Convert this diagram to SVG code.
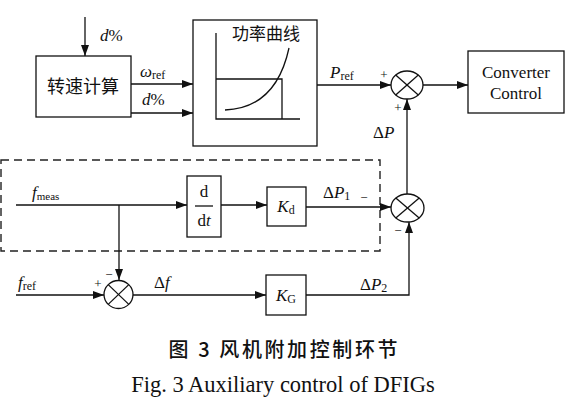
<svg xmlns="http://www.w3.org/2000/svg" width="568" height="403" viewBox="0 0 568 403">
<defs>
<marker id="ah" markerUnits="userSpaceOnUse" markerWidth="12" markerHeight="9" refX="11" refY="4" orient="auto">
<path d="M0,0 L11,4 L0,8 z" fill="#111"/>
</marker>
<style>
.ln{stroke:#111;stroke-width:1.3;fill:none}
.ar{stroke:#111;stroke-width:1.3;fill:none;marker-end:url(#ah)}
.bx{stroke:#111;stroke-width:1.3;fill:#fff}
.t{font-family:"Liberation Serif","Times New Roman",serif;fill:#111;font-size:17px}
.i{font-style:italic}
.sub{font-size:12px;font-style:normal}
.cj{font-family:"Noto Sans CJK SC",sans-serif;fill:#111}
.sg{font-family:"Liberation Serif",serif;fill:#111;font-size:13px}
</style>
</defs>
<rect width="568" height="403" fill="#fff"/>

<g id="dashed-region">
<rect x="1" y="160" width="379" height="91" fill="none" stroke="#222" stroke-width="1.4" stroke-dasharray="8,5"/>
</g>

<g id="connectors">
<line class="ar" x1="85" y1="17" x2="85" y2="56"/>
<line class="ar" x1="131" y1="84" x2="193" y2="84"/>
<line class="ar" x1="131" y1="113" x2="193" y2="113"/>
<line class="ar" x1="317" y1="85" x2="391" y2="85"/>
<line class="ar" x1="423" y1="85" x2="468" y2="85"/>
<line class="ar" x1="407" y1="194" x2="407" y2="99"/>
<line class="ar" x1="16" y1="205" x2="187" y2="205"/>
<line class="ar" x1="119" y1="205" x2="119" y2="280"/>
<line class="ar" x1="221" y1="205" x2="267" y2="205"/>
<line class="ar" x1="306" y1="207" x2="391" y2="207"/>
<line class="ar" x1="16" y1="295" x2="104" y2="295"/>
<line class="ar" x1="133" y1="295" x2="266" y2="295"/>
<polyline class="ar" points="306,295 409,295 409,222"/>
</g>

<g id="speed-calc">
<rect class="bx" x="36" y="56" width="95" height="61"/>
<text class="cj" x="83" y="93" font-size="18" text-anchor="middle">转速计算</text>
</g>

<g id="power-curve">
<rect class="bx" x="193" y="20" width="124" height="126"/>
<text class="cj" x="266" y="40" font-size="17" text-anchor="middle">功率曲线</text>
<polyline class="ln" points="216,33 216,119 300,119"/>
<polyline class="ln" points="216,79 282,79 282,119"/>
<path class="ln" d="M225,110 Q276,108 289,48"/>
</g>

<g id="sum-top">
<ellipse class="bx" cx="407" cy="85" rx="16" ry="14"/>
<line class="ln" x1="395.7" y1="75.1" x2="418.3" y2="94.9"/>
<line class="ln" x1="395.7" y1="94.9" x2="418.3" y2="75.1"/>
</g>

<g id="converter-control">
<rect class="bx" x="468" y="51" width="96" height="62"/>
<text class="t" x="516" y="78" text-anchor="middle">Converter</text>
<text class="t" x="516" y="99" text-anchor="middle">Control</text>
</g>

<g id="ddt">
<rect class="bx" x="187" y="176" width="34" height="61"/>
<text class="t" x="204" y="197" text-anchor="middle">d</text>
<line class="ln" x1="195" y1="206" x2="213" y2="206"/>
<text class="t" x="204" y="226" text-anchor="middle">d<tspan class="i">t</tspan></text>
</g>

<g id="kd">
<rect class="bx" x="267" y="187" width="39" height="39"/>
<text class="t" x="286" y="212" text-anchor="middle"><tspan class="i">K</tspan><tspan class="sub" dy="2">d</tspan></text>
</g>

<g id="sum-mid">
<ellipse class="bx" cx="407.5" cy="208" rx="16.5" ry="14"/>
<line class="ln" x1="395.8" y1="198.1" x2="419.2" y2="217.9"/>
<line class="ln" x1="395.8" y1="217.9" x2="419.2" y2="198.1"/>
</g>

<g id="sum-low">
<ellipse class="bx" cx="118.5" cy="294.5" rx="14.5" ry="14"/>
<line class="ln" x1="108.2" y1="284.6" x2="128.8" y2="304.4"/>
<line class="ln" x1="108.2" y1="304.4" x2="128.8" y2="284.6"/>
</g>

<g id="kg">
<rect class="bx" x="266" y="275" width="40" height="40"/>
<text class="t" x="286" y="301" text-anchor="middle"><tspan class="i">K</tspan><tspan class="sub" dy="2">G</tspan></text>
</g>

<g id="labels">
<text class="t" x="100" y="41"><tspan class="i">d</tspan>%</text>
<text class="t" x="140" y="77"><tspan class="i">ω</tspan><tspan class="sub" dy="2">ref</tspan></text>
<text class="t" x="142" y="105"><tspan class="i">d</tspan>%</text>
<text class="t" x="330" y="78"><tspan class="i">P</tspan><tspan class="sub" dy="2">ref</tspan></text>
<text class="t" x="373" y="138">Δ<tspan class="i">P</tspan></text>
<text class="t" x="32" y="198"><tspan class="i">f</tspan><tspan class="sub" style="font-size:11px" dy="2">meas</tspan></text>
<text class="t" x="323" y="198">Δ<tspan class="i">P</tspan><tspan class="sub" dy="2">1</tspan></text>
<text class="t" x="18" y="288"><tspan class="i">f</tspan><tspan class="sub" dy="2">ref</tspan></text>
<text class="t" x="154" y="288">Δ<tspan class="i">f</tspan></text>
<text class="t" x="360" y="290">Δ<tspan class="i">P</tspan><tspan class="sub" dy="2">2</tspan></text>
<text class="sg" x="384" y="79" text-anchor="middle">+</text>
<text class="sg" x="398" y="112" text-anchor="middle">+</text>
<text class="sg" x="364" y="202" text-anchor="middle">−</text>
<text class="sg" x="398" y="235" text-anchor="middle">−</text>
<text class="sg" x="98" y="288" text-anchor="middle">+</text>
<text class="sg" x="109" y="279" text-anchor="middle">−</text>
</g>

<g id="caption">
<text class="cj" x="283" y="357" style="font-size:20px;font-weight:500" text-anchor="middle" textLength="229" lengthAdjust="spacing">图 3  风机附加控制环节</text>
<text class="t" x="283" y="392" style="font-size:22.5px" text-anchor="middle">Fig. 3 Auxiliary control of DFIGs</text>
</g>
</svg>
